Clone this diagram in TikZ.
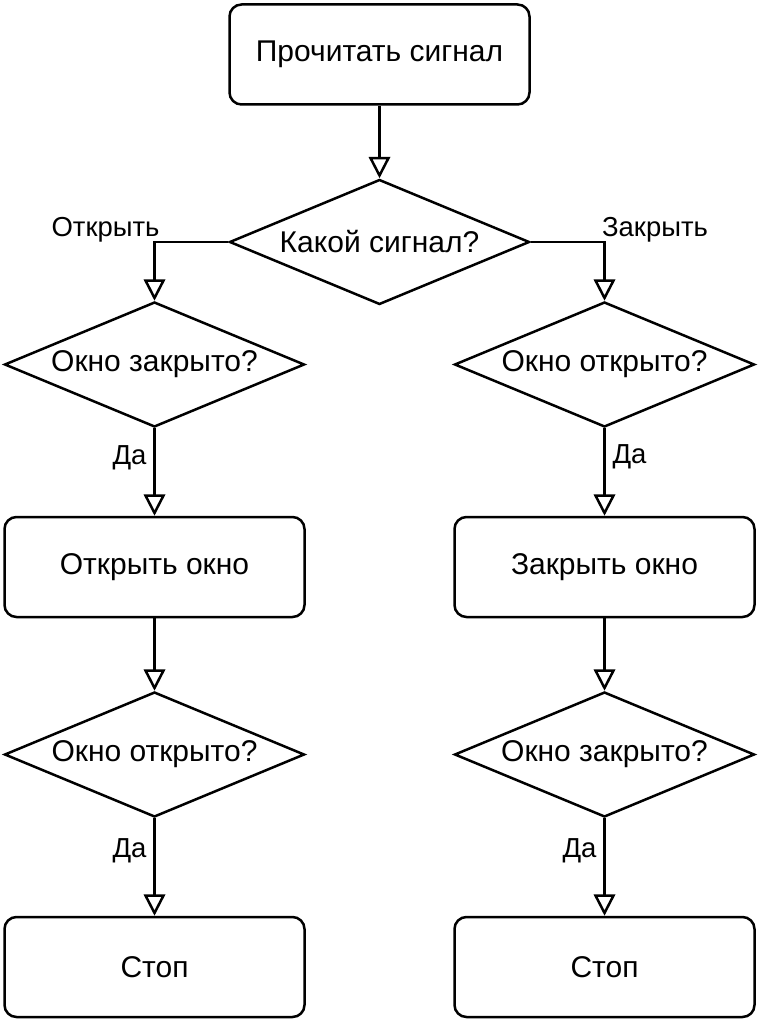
\documentclass[tikz,border=0pt]{standalone}
\usepackage{fontspec}
\setmainfont{Liberation Sans}
\usetikzlibrary{shapes.geometric,arrows.meta}
\begin{document}
\begin{tikzpicture}[x=0.75pt,y=-0.75pt,
  every node/.style={font=\fontsize{22.5pt}{27pt}\selectfont},
  box/.style={draw, line width=1.875pt, rounded corners=9pt, minimum width=225pt, minimum height=75pt, inner sep=0pt},
  dec/.style={draw, diamond, line width=1.875pt, minimum width=225pt, minimum height=93.75pt, inner sep=0pt, aspect=2.4},
  lbl/.style={font=\fontsize{20.6pt}{24pt}\selectfont, inner sep=0pt, anchor=base},
  arr/.style={line width=1.875pt, -{Triangle[open, length=16pt, width=16pt]}}
]
\useasboundingbox (0,0) rectangle (759,1023);

\node[box] (A) at (379.5,54.5) {Прочитать сигнал};
\node[dec] (D) at (379.5,242) {Какой сигнал?};
\node[dec] (L1) at (154.5,364.5) {Окно закрыто?};
\node[dec] (R1) at (604.5,364.5) {Окно открыто?};
\node[box] (L2) at (154.5,567) {Открыть окно};
\node[box] (R2) at (604.5,567) {Закрыть окно};
\node[dec] (L3) at (154.5,754.5) {Окно открыто?};
\node[dec] (R3) at (604.5,754.5) {Окно закрыто?};
\node[box] (L4) at (154.5,967) {Стоп};
\node[box] (R4) at (604.5,967) {Стоп};

\draw[arr] (A) -- (D);
\draw[arr] (D.west) -| (L1.north);
\draw[arr] (D.east) -| (R1.north);
\draw[arr] (L1) -- (L2);
\draw[arr] (R1) -- (R2);
\draw[arr] (L2) -- (L3);
\draw[arr] (R2) -- (R3);
\draw[arr] (L3) -- (L4);
\draw[arr] (R3) -- (R4);

\node[lbl] (t1) at (105.5,237) {Открыть};
\node[lbl] (t2) at (655,237) {Закрыть};
\node[lbl] (y1) at (129.5,464.5) {Да};
\node[lbl] (y2) at (629.5,463) {Да};
\node[lbl] (y3) at (129.5,857) {Да};
\node[lbl] (y4) at (579.5,857) {Да};
\end{tikzpicture}
\end{document}
